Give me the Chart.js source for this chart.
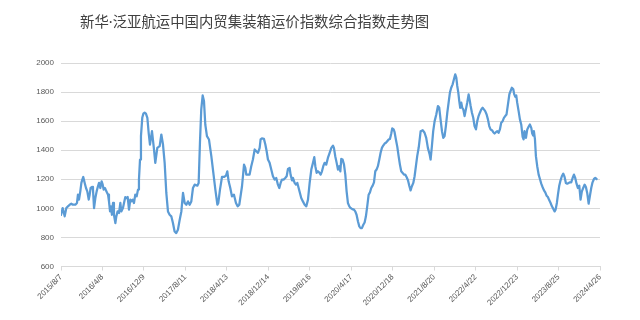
<!DOCTYPE html>
<html lang="zh">
<head>
  <meta charset="UTF-8">
  <script src="https://cdn.jsdelivr.net/npm/chart.js"></script>
  <title>新华·泛亚航运中国内贸集装箱运价指数综合指数走势图</title>
  <style>
    html, body { margin: 0; padding: 0; background: #fff; }
    #box { width: 640px; height: 320px; }
  </style>
</head>
<body>
  <div id="box"><canvas id="grafico" width="640" height="320"></canvas></div>

  <script>
    const titulo = '新华·泛亚航运中国内贸集装箱运价指数综合指数走势图';

    // etiquetas del eje x (cada 35 semanas)
    const fechas = ['2015/8/7', '2016/4/8', '2016/12/9', '2017/8/11', '2018/4/13', '2018/12/14', '2019/8/16',
      '2020/4/17', '2020/12/18', '2021/8/20', '2022/4/22', '2022/12/23', '2023/8/25', '2024/4/26'];

    // semanas desde 2015/8/7
    const semanas = [
      0, 1.4, 3.1, 4.5, 5.9, 7.3, 8.7, 10.1, 12.1, 13.5, 14.3, 15.2, 16.3, 17.2, 18.0, 18.8, 20.0, 21.1, 22.2, 23.4,
      24.2, 25.0, 26.2, 27.0, 27.9, 29.0, 30.1, 31.2, 32.1, 33.2, 34.3, 35.2, 36.0, 37.1, 38.3, 39.7, 40.5, 41.4, 42.2, 43.0,
      43.9, 44.7, 45.9, 46.7, 47.8, 49.0, 50.1, 50.9, 52.3, 53.2, 54.3, 55.4, 56.3, 57.4, 58.5, 59.4, 60.5, 61.6, 62.7, 63.9,
      65.0, 65.8, 66.7, 67.5, 68.6, 69.5, 70.6, 71.7, 72.9, 74.0, 75.1, 76.8, 78.5, 79.6, 81.3, 83.3, 84.7, 86.1, 87.5, 88.9,
      90.3, 91.7, 93.1, 94.5, 95.9, 97.3, 98.7, 100.2, 101.6, 103.0, 104.4, 105.8, 107.2, 108.6, 110.0, 111.4, 112.8, 115.1, 116.2, 117.3,
      118.4, 119.6, 120.7, 121.8, 123.2, 124.9, 126.9, 128.6, 130.3, 132.0, 132.8, 134.2, 135.9, 137.6, 139.3, 140.4, 141.5, 142.9, 144.3, 146.0,
      147.7, 149.1, 150.5, 152.8, 154.5, 155.6, 156.4, 159.2, 160.6, 162.0, 163.5, 164.9, 166.3, 167.7, 168.5, 169.6, 171.3, 172.5, 173.6, 174.7,
      176.1, 177.5, 178.9, 180.3, 181.7, 183.1, 184.3, 185.4, 186.5, 187.9, 189.3, 190.5, 191.6, 193.0, 193.8, 195.0, 195.8, 197.2, 198.3, 199.5,
      200.6, 201.7, 202.8, 204.2, 205.7, 207.1, 208.5, 209.9, 211.3, 212.7, 213.8, 214.7, 215.8, 216.9, 218.3, 219.2, 220.3, 221.4, 222.5, 223.9,
      225.3, 226.7, 228.2, 229.6, 230.4, 231.5, 232.7, 233.8, 234.9, 235.8, 236.6, 237.7, 238.9, 240.0, 241.1, 242.2, 243.4, 244.5, 245.9, 247.3,
      248.4, 249.5, 250.7, 251.8, 252.9, 254.0, 255.2, 256.3, 257.4, 258.5, 259.7, 260.8, 261.9, 263.1, 264.2, 265.3, 266.4, 267.5, 268.7, 269.8,
      270.9, 272.0, 273.2, 274.3, 275.4, 276.6, 277.7, 278.8, 279.6, 280.8, 281.6, 282.7, 283.9, 285.0, 286.1, 287.2, 288.4, 289.5, 290.6, 291.7,
      292.9, 294.0, 295.1, 296.2, 297.4, 298.5, 299.6, 300.7, 302.0, 303.6, 305.3, 306.9, 308.3, 309.7, 311.2, 312.0, 313.1, 314.2, 315.4, 316.8,
      318.2, 319.3, 320.4, 321.6, 322.7, 323.8, 324.9, 326.1, 327.2, 328.3, 329.4, 330.6, 331.7, 332.8, 333.7, 334.5, 335.4, 336.2, 337.0, 337.9,
      338.7, 339.6, 340.7, 341.8, 342.9, 344.1, 344.9, 345.8, 346.9, 348.0, 349.1, 350.3, 351.4, 352.5, 353.6, 354.8, 355.9, 357.0, 358.1, 359.3,
      360.4, 361.5, 362.6, 363.8, 364.9, 366.0, 367.1, 368.3, 369.4, 370.5, 371.6, 372.8, 373.9, 375.0, 376.1, 377.3, 378.5, 380.6, 381.8, 382.6,
      383.5, 384.3, 385.1, 386.3, 387.4, 388.5, 389.7, 390.5, 391.3, 392.5, 393.6, 394.7, 395.8, 397.0, 397.8, 398.6, 399.2, 400.1, 400.9, 402.0,
      403.2, 404.3, 405.4, 406.5, 407.7, 408.8, 409.9, 411.0, 412.2, 413.3, 414.4, 415.5, 416.7, 417.5, 418.6, 419.5, 420.6, 421.7, 422.8, 424.0,
      425.1, 426.2, 427.3, 428.5, 429.6, 430.7, 431.9, 433.0, 434.1, 435.2, 436.3, 437.5, 438.6, 439.7, 440.8, 442.0, 443.1, 444.2, 445.4, 446.5,
      447.6, 448.7, 449.9, 451.0, 452.1
    ];

    // índice compuesto
    const indice = [
      955, 1002, 945, 1002, 1014, 1025, 1032, 1025, 1025, 1037, 1094, 1060, 1117, 1175, 1198, 1216, 1175, 1140, 1117, 1060,
      1094, 1140, 1147, 1129, 1002, 1071, 1117, 1152, 1175, 1140, 1186, 1163, 1129, 1140, 1117, 1094, 1048, 979, 1014, 956,
      1037, 956, 899, 945, 979, 968, 1037, 979, 1002, 1037, 1078, 1071, 1078, 991, 1060, 1048, 1060, 1037, 1094, 1083,
      1129, 1198, 1336, 1497, 1623, 1651, 1658, 1651, 1623, 1520, 1439, 1531, 1405, 1313, 1416, 1428, 1508, 1439, 1313, 1106,
      979, 956, 945, 899, 841, 830, 853, 922, 979, 1106, 1037, 1025, 1048, 1025, 1048, 1140, 1163, 1156, 1175, 1451,
      1681, 1777, 1738, 1577, 1497, 1474, 1359, 1244, 1129, 1025, 1037, 1129, 1216, 1216, 1225, 1255, 1186, 1140, 1083, 1094,
      1037, 1014, 1025, 1152, 1301, 1278, 1232, 1232, 1290, 1336, 1405, 1393, 1382, 1416, 1474, 1481, 1478, 1439, 1393, 1336,
      1313, 1267, 1221, 1198, 1209, 1163, 1140, 1175, 1198, 1198, 1209, 1221, 1271, 1278, 1232, 1193, 1209, 1175, 1163, 1175,
      1140, 1106, 1071, 1048, 1025, 1014, 1060, 1175, 1267, 1313, 1352, 1290, 1244, 1255, 1244, 1232, 1255, 1290, 1313, 1301,
      1347, 1380, 1416, 1432, 1416, 1359, 1313, 1267, 1290, 1255, 1340, 1336, 1301, 1232, 1117, 1037, 1014, 1002, 995, 991,
      979, 956, 910, 876, 864, 864, 887, 903, 945, 1014, 1094, 1110, 1140, 1156, 1179, 1255, 1267, 1290, 1336, 1382,
      1416, 1432, 1446, 1451, 1462, 1474, 1478, 1515, 1550, 1543, 1524, 1474, 1423, 1359, 1301, 1255, 1244, 1232, 1232, 1216,
      1193, 1156, 1124, 1152, 1175, 1221, 1290, 1359, 1420, 1531, 1538, 1520, 1485, 1416, 1370, 1336, 1428, 1531, 1600, 1646,
      1704, 1692, 1612, 1531, 1485, 1497, 1566, 1658, 1727, 1796, 1830, 1853, 1888, 1922, 1899, 1842, 1796, 1738, 1692, 1727,
      1692, 1681, 1635, 1681, 1727, 1784, 1750, 1704, 1658, 1623, 1566, 1543, 1600, 1635, 1658, 1681, 1692, 1681, 1669, 1646,
      1612, 1566, 1543, 1538, 1524, 1515, 1524, 1531, 1520, 1543, 1589, 1600, 1623, 1635, 1646, 1715, 1785, 1830, 1819, 1784,
      1768, 1777, 1727, 1669, 1612, 1577, 1492, 1474, 1531, 1485, 1543, 1561, 1577, 1554, 1515, 1501, 1531, 1474, 1359, 1290,
      1232, 1202, 1170, 1147, 1124, 1110, 1087, 1078, 1055, 1037, 1014, 998, 979, 991, 1037, 1094, 1156, 1193, 1221, 1239,
      1216, 1175, 1170, 1175, 1179, 1179, 1209, 1232, 1209, 1170, 1140, 1156, 1060, 1117, 1140, 1163, 1147, 1106, 1032, 1087,
      1140, 1179, 1202, 1209, 1202
    ];

    const pasoSemanas = 35;

    // título dibujado a mano (en la imagen no está centrado)
    const pluginTitulo = {
      id: 'titulo',
      afterDraw(chart) {
        const ctx = chart.ctx;
        ctx.save();
        ctx.fillStyle = '#404040';
        ctx.font = '14.4px "Noto Sans", "Noto Sans CJK SC", sans-serif';
        ctx.textAlign = 'left';
        ctx.textBaseline = 'middle';
        ctx.fillText(titulo, 80, 23);
        ctx.restore();
      }
    };

    const fondoBlanco = {
      id: 'fondo',
      beforeDraw(chart) {
        const ctx = chart.ctx;
        ctx.save();
        ctx.fillStyle = '#ffffff';
        ctx.fillRect(0, 0, chart.width, chart.height);
        ctx.restore();
      }
    };

    new Chart(document.getElementById('grafico'), {
      type: 'line',
      data: {
        datasets: [{
          label: '综合指数',
          data: semanas.map((s, i) => ({ x: s, y: indice[i] })),
          borderColor: '#5b9bd5',
          borderWidth: 2.25,
          borderJoinStyle: 'round',
          borderCapStyle: 'round',
          pointRadius: 0,
          tension: 0,
          fill: false
        }]
      },
      options: {
        responsive: false,
        animation: false,
        layout: { padding: { top: 63, right: 40, left: 0, bottom: 0 } },
        plugins: {
          legend: { display: false },
          title: { display: false },
          tooltip: { enabled: false }
        },
        scales: {
          x: {
            type: 'linear',
            min: 0,
            max: pasoSemanas * (fechas.length - 1),
            grid: { drawOnChartArea: false, drawTicks: true, tickLength: 4, color: '#d9d9d9' },
            border: { color: '#d9d9d9' },
            ticks: {
              stepSize: pasoSemanas,
              autoSkip: false,
              minRotation: 45,
              maxRotation: 45,
              padding: 2,
              color: '#595959',
              font: { family: '"Liberation Sans", Arial, sans-serif', size: 8 },
              callback: v => fechas[Math.round(v / pasoSemanas)]
            },
            afterFit: s => { s.height = 53.5; }
          },
          y: {
            min: 600,
            max: 2000,
            grid: { color: '#d9d9d9', drawTicks: false },
            border: { display: false },
            ticks: {
              stepSize: 200,
              padding: 7,
              color: '#595959',
              font: { family: '"Liberation Sans", Arial, sans-serif', size: 8 },
              callback: v => String(v)
            },
            afterFit: s => { s.width = 61; }
          }
        }
      },
      plugins: [fondoBlanco, pluginTitulo]
    });
  </script>
</body>
</html>
